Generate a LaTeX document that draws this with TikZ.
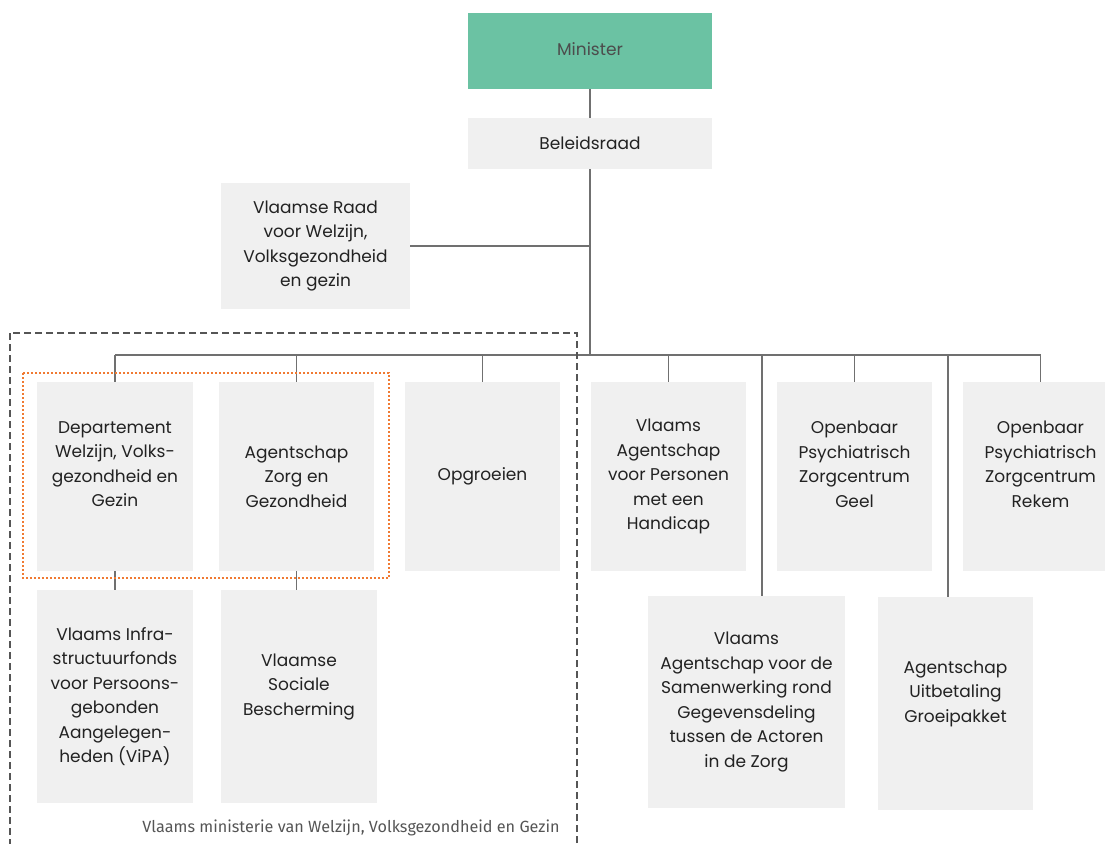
\documentclass[tikz,border=0pt]{standalone}
\usepackage{fontspec}
\setmainfont{Poppins}
\newfontfamily\capfont{Fira Sans}
\usetikzlibrary{calc}

\definecolor{ministergreen}{HTML}{6BC2A3}
\definecolor{boxgray}{HTML}{F0F0F0}
\definecolor{linegray}{HTML}{707070}
\definecolor{framegray}{HTML}{555555}
\definecolor{groeporange}{HTML}{F07A32}
\definecolor{boxtext}{HTML}{222222}
\newcommand{\padline}{\\\mbox{}}

\begin{document}
\begin{tikzpicture}[x=0.5pt, y=-0.5pt,
        box/.style={fill=boxgray, inner sep=0pt, align=center, text=boxtext,
            font=\fontsize{8.5}{12.25}\selectfont},
        sz/.style 2 args={minimum width=#1*0.5pt, minimum height=#2*0.5pt},
        link/.style={draw=linegray, line width=0.7pt}]
        \useasboundingbox (0,0) rectangle (1105,843);
        \clip (0,0) rectangle (1105,843);

        % top
        \node[box, sz={244}{76}, fill=ministergreen, text=black!70] (minister) at (590,51) {\raisebox{2pt}{Minister}};
        \node[box, sz={244}{51}] (beleid) at (590,143.5) {Beleidsraad};
        \node[box, sz={189}{126}] (vrwvg) at (315.5,246) {Vlaamse Raad\\voor Welzijn,\\Volksgezondheid\\en gezin};

        % first row
        \node[box, sz={156}{189}] (dep) at (115,476.5) {Departement\\Welzijn, Volks-\\gezondheid en\\Gezin\padline};
        \node[box, sz={155}{189}] (azg) at (296.5,476.5) {Agentschap\\Zorg en\\Gezondheid};
        \node[box, sz={155}{189}] (opg) at (482.5,476.5) {Opgroeien};
        \node[box, sz={155}{189}] (vaph) at (668.5,476.5) {Vlaams\\Agentschap\\voor Personen\\met een\\Handicap};
        \node[box, sz={155}{189}] (geel) at (854.5,476.5) {Openbaar\\Psychiatrisch\\Zorgcentrum\\Geel\padline};
        \node[box, sz={155}{189}] (rekem) at (1040.5,476.5) {Openbaar\\Psychiatrisch\\Zorgcentrum\\Rekem\padline};

        % second row
        \node[box, sz={156}{213}] (vipa) at (115,696.5) {Vlaams Infra-\\structuurfonds\\voor Persoons-\\gebonden\\Aangelegen-\\heden (ViPA)};
        \node[box, sz={156}{213}] (vsb) at (299,696.5) {Vlaamse\\Sociale\\Bescherming\padline};
        \node[box, sz={197}{212}] (vag) at (746.5,702) {Vlaams\\Agentschap voor de\\Samenwerking rond\\Gegevensdeling\\tussen de Actoren\\in de Zorg};
        \node[box, sz={155}{213}] (agup) at (955.5,703.5) {Agentschap\\Uitbetaling\\Groeipakket\padline};

        % lines
        \coordinate (bus) at (590,355);
        \coordinate (bv1) at (762,355);
        \coordinate (bv2) at (948,355);
        \draw[link] (minister.south) -- (beleid.north);
        \draw[link] (beleid.south) -- (bus);
        \draw[link] (vrwvg.east) -- (vrwvg.east -| bus);
        \draw[link] (dep.north |- bus) -- (rekem.north |- bus);
        \foreach \n in {dep, azg, opg, vaph, geel, rekem}
            \draw[link] (\n.north |- bus) -- (\n.north);
        \draw[link] (bv1) -- (bv1 |- vag.north);
        \draw[link] (bv2) -- (bv2 |- agup.north);
        \draw[link] (dep.south) -- (vipa.north);
        \draw[link] (azg.south) -- (azg.south |- vsb.north);

        % frames
        \draw[framegray, line width=1pt, dash pattern=on 3.5pt off 2pt] (10,333) rectangle (577,860);
        \draw[groeporange, line width=1pt, dash pattern=on 0.8pt off 1.2pt] (23,373) rectangle (389,578);
        \node[anchor=east, inner sep=0pt, text=framegray, font=\capfont\fontsize{8.1}{10}\selectfont] (caption) at (560,828) {Vlaams ministerie van Welzijn, Volksgezondheid en Gezin};
\end{tikzpicture}
\end{document}
